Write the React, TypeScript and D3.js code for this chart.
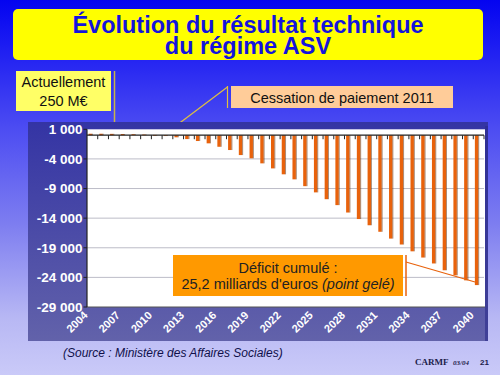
import React from "react";
import * as d3 from "d3";

const years = [
  2004, 2005, 2006, 2007, 2008, 2009, 2010, 2011, 2012, 2013, 2014, 2015, 2016,
  2017, 2018, 2019, 2020, 2021, 2022, 2023, 2024, 2025, 2026, 2027, 2028, 2029,
  2030, 2031, 2032, 2033, 2034, 2035, 2036, 2037, 2038, 2039, 2040,
];
const results = [
  250, 250, 230, 200, 170, 120, 50, -100, -350, -650, -980, -1370, -1950,
  -2500, -3350, -3900, -4750, -5600, -6600, -7450, -8600, -9650, -10800,
  -11800, -13050, -14150, -15200, -16300, -17450, -18450, -19600, -20650,
  -21650, -22800, -23650, -24500, -25300,
];
const yTicks = [1000, -4000, -9000, -14000, -19000, -24000, -29000];
const xLabelYears = [
  2004, 2007, 2010, 2013, 2016, 2019, 2022, 2025, 2028, 2031, 2034, 2037, 2040,
];
const titleLines = ["Évolution du résultat technique", "du régime ASV"];
const noteNow = ["Actuellement", "250 M€"];
const noteStop = "Cessation de paiement 2011";
const noteDeficit1 = "Déficit cumulé :";
const noteDeficit2a = "25,2 milliards d'euros ";
const noteDeficit2b = "(point gelé)";
const source = "(Source : Ministère des Affaires Sociales)";

const SANS = "'Liberation Sans', Arial, Helvetica, sans-serif";
const SERIF = "'Liberation Serif', 'Times New Roman', serif";

const fr = d3.formatLocale({
  decimal: ",",
  thousands: " ",
  grouping: [3],
  currency: ["", " €"],
  minus: "-",
});
const fmt = fr.format(",d");

export default function App() {
  const plot = { left: 87, right: 484, top: 129.3, bottom: 307 };
  const x = d3
    .scaleBand<number>()
    .domain(years)
    .range([plot.left, plot.right])
    .paddingInner(0)
    .paddingOuter(0);
  const y = d3
    .scaleLinear()
    .domain([-29000, 1000])
    .range([plot.bottom, plot.top]);
  const bw = x.bandwidth();
  const y0 = y(0);

  return (
    <svg
      width={500}
      height={375}
      style={{ position: "absolute", left: 0, top: 0, display: "block" }}
      fontFamily={SANS}
    >
      <defs>
        <linearGradient id="bg" x1="0" y1="0" x2="0" y2="1">
          <stop offset="0" stopColor="#0404f0" />
          <stop offset="0.12" stopColor="#1c1cf2" />
          <stop offset="0.35" stopColor="#4e4ef2" />
          <stop offset="0.6" stopColor="#7e7ef0" />
          <stop offset="0.85" stopColor="#b8b8f4" />
          <stop offset="1" stopColor="#cacaf8" />
        </linearGradient>
        <linearGradient id="panel" x1="0" y1="0" x2="0" y2="1">
          <stop offset="0" stopColor="#3434a4" />
          <stop offset="1" stopColor="#6262aa" />
        </linearGradient>
      </defs>

      <rect x={0} y={0} width={500} height={375} fill="url(#bg)" />

      {/* title */}
      <rect x={13} y={9} width={470} height={51} rx={5} fill="#ffff00" />
      {titleLines.map((t, i) => (
        <text
          key={t}
          x={248}
          y={33 + i * 21.3}
          textAnchor="middle"
          fontSize={23.5}
          fontWeight="bold"
          fill="#1414dc"
        >
          {t}
        </text>
      ))}

      {/* "Actuellement" note */}
      <rect x={16} y={71} width={95} height={40} fill="#ffff66" />
      <text x={63.5} y={87.3} textAnchor="middle" fontSize={14.5} fill="#111">
        {noteNow[0]}
      </text>
      <text x={63.5} y={106} textAnchor="middle" fontSize={14.5} fill="#111">
        {noteNow[1]}
      </text>
      <line x1={114.5} y1={71} x2={114.5} y2={127} stroke="#c8b448" strokeWidth={1.5} />

      {/* "Cessation" note */}
      <rect x={231} y={86} width={222} height={22} fill="#ffcc99" />
      <text x={342} y={102.7} textAnchor="middle" fontSize={14.5} fill="#111">
        {noteStop}
      </text>
      <line x1={227.5} y1={86} x2={227.5} y2={108} stroke="#e0c040" strokeWidth={1.2} />
      <line x1={227.5} y1={87} x2={173} y2={128} stroke="#e0c040" strokeWidth={1.2} />

      {/* chart panel */}
      <rect x={28} y={122} width={460} height={219} fill="url(#panel)" />
      <rect x={485} y={126} width={3} height={215} fill="#2a2a8a" opacity={0.6} />
      <rect x={plot.left} y={plot.top} width={plot.right - plot.left + 1} height={plot.bottom - plot.top} fill="#ffffff" />

      {/* gridlines */}
      {yTicks.slice(1, -1).map((v) => (
        <line
          key={v}
          x1={plot.left}
          x2={plot.right}
          y1={y(v)}
          y2={y(v)}
          stroke="#bcbcc8"
          strokeWidth={1}
        />
      ))}
      <line x1={plot.left} x2={plot.right + 1} y1={plot.bottom} y2={plot.bottom} stroke="#555" strokeWidth={1} />

      {/* bars */}
      {years.map((yr, i) => {
        const v = results[i];
        const x0 = (x(yr) as number) + 1.6;
        const top = Math.min(y(v), y0);
        const h = Math.max(Math.abs(y(v) - y0), 0.8);
        return (
          <g key={yr}>
            <rect x={x0} y={top} width={3.4} height={h} fill="#e8620c" />
            <rect x={x0 + 3.4} y={top} width={0.9} height={h} fill="#5a2400" opacity={0.55} />
          </g>
        );
      })}

      {/* category axis at zero */}
      <line x1={plot.left} x2={plot.right} y1={y0} y2={y0} stroke="#222" strokeWidth={1.2} />
      {years.map((yr) => (
        <line
          key={"t" + yr}
          x1={(x(yr) as number) + bw}
          x2={(x(yr) as number) + bw}
          y1={y0}
          y2={y0 + 4}
          stroke="#222"
          strokeWidth={1}
        />
      ))}

      {/* value axis */}
      <line x1={plot.left} x2={plot.left} y1={plot.top} y2={plot.bottom} stroke="#222" strokeWidth={1.2} />
      {yTicks.map((v) => (
        <g key={"y" + v}>
          <line x1={plot.left - 3.5} x2={plot.left} y1={y(v)} y2={y(v)} stroke="#222" />
          <text
            x={82.5}
            y={y(v)}
            dy="0.36em"
            textAnchor="end"
            fontSize={13.5}
            fontWeight="bold"
            fill="#ffffff"
          >
            {fmt(v)}
          </text>
        </g>
      ))}

      {/* year labels */}
      {xLabelYears.map((yr) => {
        const cx = (x(yr) as number) + bw / 2 - 4;
        const cy = 316;
        return (
          <text
            key={"x" + yr}
            x={cx}
            y={cy}
            textAnchor="end"
            fontSize={11}
            fontWeight="bold"
            fill="#ffffff"
            transform={`rotate(-45 ${cx} ${cy})`}
          >
            {yr}
          </text>
        );
      })}

      {/* deficit note */}
      <rect x={173} y={255} width={230} height={41} fill="#ff9900" />
      <text x={288} y={272.7} textAnchor="middle" fontSize={14.5} fill="#222">
        {noteDeficit1}
      </text>
      <text x={288} y={288.5} textAnchor="middle" fontSize={14.5} fill="#222">
        {noteDeficit2a}
        <tspan fontStyle="italic">{noteDeficit2b}</tspan>
      </text>
      <line x1={406} y1={255} x2={406} y2={296} stroke="#e8620c" strokeWidth={1.5} />
      <line x1={406} y1={262} x2={475} y2={282} stroke="#e8620c" strokeWidth={1.2} />

      {/* source & footer */}
      <text x={63} y={357} fontSize={12} fontStyle="italic" fill="#10104a">
        {source}
      </text>
      <text x={415} y={365} fontFamily={SERIF} fontSize={9} fontWeight="bold" fill="#20204a">
        CARMF
      </text>
      <text x={453} y={365} fontFamily={SERIF} fontSize={7} fontStyle="italic" fontWeight="bold" fill="#20204a">
        03/04
      </text>
      <text x={480} y={365} fontFamily={SANS} fontSize={8} fontWeight="bold" fill="#20204a">
        21
      </text>
    </svg>
  );
}
